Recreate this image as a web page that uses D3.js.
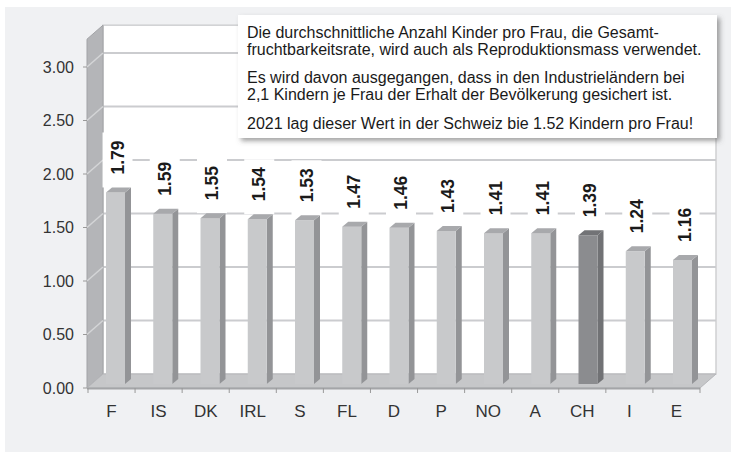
<!DOCTYPE html>
<html><head><meta charset="utf-8">
<script src="https://cdn.jsdelivr.net/npm/d3@7"></script>
<style>
html,body{margin:0;padding:0;background:#fff;}
svg{display:block;font-family:"Liberation Sans",Arial,sans-serif;}
</style></head>
<body>
<svg id="c" width="731" height="454"></svg>
<script>
const categories = ["F","IS","DK","IRL","S","FL","D","P","NO","A","CH","I","E"];
const values = [1.79,1.59,1.55,1.54,1.53,1.47,1.46,1.43,1.41,1.41,1.39,1.24,1.16];
const highlight = ["CH"];
const yTicks = [0,0.5,1,1.5,2,2.5,3];
const noteParagraphs = [
  ["Die durchschnittliche Anzahl Kinder pro Frau, die Gesamt-",
   "fruchtbarkeitsrate, wird auch als Reproduktionsmass verwendet."],
  ["Es wird davon ausgegangen, dass in den Industrieländern bei",
   "2,1 Kindern je Frau der Erhalt der Bevölkerung gesichert ist."],
  ["2021 lag dieser Wert in der Schweiz bie 1.52 Kindern pro Frau!"]
];

const svg = d3.select("#c");
const defs = svg.append("defs");
const f = defs.append("filter").attr("id","sh").attr("x","-10%").attr("y","-10%").attr("width","130%").attr("height","140%");
f.append("feDropShadow").attr("dx",3).attr("dy",3).attr("stdDeviation",2.5).attr("flood-color","#555").attr("flood-opacity",0.55);

// geometry
const x0 = 87, x1 = 700;          // front edge of floor
const DX = 16, DY = -14;          // depth offset
const y = d3.scaleLinear().domain([0,3]).range([388,67]);
const yMax = 3.26;
const xBand = d3.scaleBand().domain(categories).range([x0+1, x1]).padding(0);
const xBar = d3.scalePoint().domain(categories).range([106,673]);
const BW = 19, SD = 6, SH = 5, BOFF = 4;

// background
svg.append("rect").attr("x",5).attr("y",7).attr("width",726).attr("height",445).attr("fill","#f0f1f3");

// back wall
svg.append("rect").attr("x",x0+DX).attr("y",y(yMax)+DY).attr("width",x1-x0).attr("height",y(0)-y(yMax))
  .attr("fill","#fff").attr("stroke","#cfd0d2").attr("stroke-width",1.5);

// gridlines on back wall
svg.append("g").selectAll("line").data(yTicks.filter(d=>d>0)).join("line")
  .attr("x1",x0+DX).attr("x2",x1+DX).attr("y1",d=>y(d)+DY).attr("y2",d=>y(d)+DY)
  .attr("stroke","#cbcccf").attr("stroke-width",2);

// left wall
const wall = [[x0,y(yMax)],[x0+DX,y(yMax)+DY],[x0+DX,y(0)+DY],[x0,y(0)]];
svg.append("path").attr("d",d3.line()(wall)+"Z").attr("fill","#b4b5b8").attr("stroke","#a2a3a6").attr("stroke-width",1);
svg.append("g").selectAll("line").data(yTicks.filter(d=>d>0)).join("line")
  .attr("x1",x0).attr("x2",x0+DX).attr("y1",d=>y(d)).attr("y2",d=>y(d)+DY)
  .attr("stroke","#d4d5d7").attr("stroke-width",1.5);

// floor
const floor = [[x0,y(0)],[x1,y(0)],[x1+DX,y(0)+DY],[x0+DX,y(0)+DY]];
svg.append("path").attr("d",d3.line()(floor)+"Z").attr("fill","#c6c7c9").attr("stroke","#b5b6b9").attr("stroke-width",1);
svg.append("line").attr("x1",x0).attr("x2",x1).attr("y1",y(0)+0.5).attr("y2",y(0)+0.5).attr("stroke","#a4a5a8").attr("stroke-width",2);

// y axis ticks and labels
const ya = svg.append("g");
ya.selectAll("line").data(yTicks).join("line")
  .attr("x1",x0-4).attr("x2",x0).attr("y1",d=>y(d)).attr("y2",d=>y(d)).attr("stroke","#999").attr("stroke-width",1);
ya.selectAll("text").data(yTicks).join("text")
  .attr("x",x0-13).attr("y",d=>y(d)).attr("dy","0.36em").attr("text-anchor","end")
  .attr("font-size","16px").attr("fill","#333").text(d3.format(".2f"));

// x axis ticks
const xt = d3.range(categories.length+1).map(i=> i===categories.length ? x1 : xBand(categories[i]));
svg.append("g").selectAll("line").data(xt).join("line")
  .attr("x1",d=>d).attr("x2",d=>d).attr("y1",y(0)).attr("y2",y(0)+5).attr("stroke","#999").attr("stroke-width",1);
svg.append("g").selectAll("text").data(categories).join("text")
  .attr("x",d=>xBand(d)+xBand.bandwidth()/2).attr("y",411).attr("dy","0.36em").attr("text-anchor","middle")
  .attr("font-size","17px").attr("fill","#333").text(d=>d);

const data = categories.map((c,i)=>({c, v: values[i]}));

// label boxes (white backgrounds)
svg.append("g").selectAll("rect").data(data).join("rect")
  .attr("x",d=>xBar(d.c)+11.5-15).attr("width",30)
  .attr("y",d=>y(d.v)-BOFF-60).attr("height",55)
  .attr("fill","#fff");

// bars
const bars = svg.append("g").selectAll("g").data(data).join("g");
bars.each(function(d){
  const g = d3.select(this);
  const hl = highlight.includes(d.c);
  const xl = xBar(d.c), yt = y(d.v)-BOFF, yb = y(0)-BOFF;
  const cFace = hl ? "#8b8c8f" : "#c8c9cb";
  const cSide = hl ? "#717275" : "#939497";
  const cTop  = hl ? "#727376" : "#a8a9ac";
  g.append("path").attr("d",d3.line()([[xl+BW,yt],[xl+BW+SD,yt-SH],[xl+BW+SD,yb-SH],[xl+BW,yb]])+"Z").attr("fill",cSide);
  g.append("rect").attr("x",xl).attr("y",yt).attr("width",BW).attr("height",yb-yt).attr("fill",cFace);
  g.append("path").attr("d",d3.line()([[xl,yt],[xl+BW,yt],[xl+BW+SD,yt-SH],[xl+SD,yt-SH]])+"Z").attr("fill",cTop);
});

// value labels
svg.append("g").selectAll("text").data(data).join("text")
  .attr("transform",d=>`translate(${xBar(d.c)+17.5},${y(d.v)-BOFF-18}) rotate(-90)`)
  .attr("text-anchor","start").attr("font-size","17.5px").attr("font-weight","bold").attr("fill","#1a1a1a")
  .text(d=>d3.format(".2f")(d.v));

// annotation box
svg.append("rect").attr("x",238).attr("y",15).attr("width",479).attr("height",123)
  .attr("fill","#fff").attr("filter","url(#sh)");
const baselines = [[38,55],[83,100],[129]];
const note = svg.append("g").attr("font-size","16px").attr("fill","#1a1a1a");
noteParagraphs.forEach((p,pi)=>p.forEach((line,li)=>{
  note.append("text").attr("x",247).attr("y",baselines[pi][li]).text(line);
}));
</script>
</body></html>
